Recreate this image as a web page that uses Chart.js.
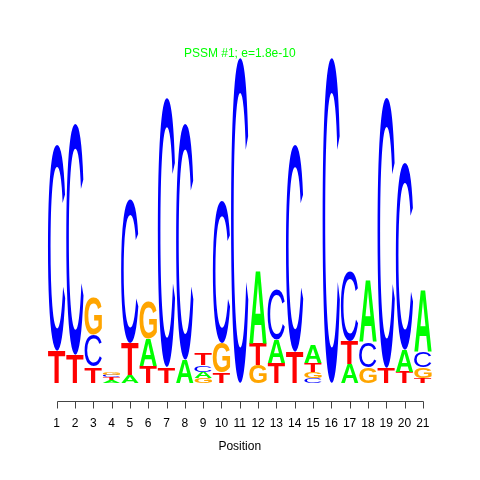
<!DOCTYPE html>
<html><head><meta charset="utf-8">
<script src="https://cdn.jsdelivr.net/npm/chart.js@4"></script>
<style>html,body{margin:0;padding:0;background:#fff}</style>
</head><body>
<canvas id="c" width="480" height="480"></canvas>
<script>
// Positions (x-axis tick labels)
const positions = ['1','2','3','4','5','6','7','8','9','10','11','12','13','14','15','16','17','18','19','20','21'];
// Letter stacks, ordered from bottom (rank 1) to top (rank 4); heights in bits
const letters1 = ['T','T','T','A','A','T','T','A','G','T','C','G','T','T','C','C','A','G','T','T','T'];
const bits1    = [0.197,0.172,0.098,0.018,0.049,0.105,0.098,0.142,0.031,0.062,2.0,0.111,0.123,0.191,0.031,2.0,0.117,0.098,0.092,0.068,0.031];
const letters2 = ['C','C','C','T','T','A','C','C','A','G','','T','A','C','G','','T','C','C','A','G'];
const bits2    = [1.268,1.422,0.197,0.015,0.197,0.166,1.655,1.452,0.037,0.185,0,0.135,0.142,1.274,0.037,0,0.142,0.154,1.662,0.135,0.062];
const letters3 = ['','','G','C','C','G','','','C','C','','A','C','','T','','C','A','','C','C'];
const bits3    = [0,0,0.222,0.015,0.880,0.222,0,0,0.043,0.874,0,0.443,0.308,0,0.055,0,0.425,0.382,0,1.151,0.098];
const letters4 = ['','','','G','','','','','T','','','','','','A','','','','','','A'];
const bits4    = [0,0,0,0.012,0,0,0,0,0.074,0,0,0,0,0,0.111,0,0,0,0,0,0.382];
const titleText = 'PSSM #1; e=1.8e-10';

const letterColors = {A:'#00ff00', C:'#0000ff', G:'#ffa500', T:'#ff0000'};
const letterWeights = {A:'bold', C:'normal', G:'bold', T:'bold'};
const FONT = '"Liberation Sans", Arial, Helvetica, sans-serif';

const logoPlugin = {
  id: 'logoLetters',
  afterDatasetsDraw(chart) {
    const ctx = chart.ctx;
    chart.data.datasets.forEach((ds, di) => {
      const meta = chart.getDatasetMeta(di);
      meta.data.forEach((el, i) => {
        const L = ds.letters[i];
        if (!L) return;
        const p = el.getProps(['x','y','base','width'], true);
        const top = Math.min(p.y, p.base), h = Math.abs(p.base - p.y);
        if (h < 0.3) return;
        ctx.save();
        ctx.font = letterWeights[L] + ' 100px ' + FONT;
        ctx.textBaseline = 'alphabetic';
        ctx.textAlign = 'left';
        const m = ctx.measureText(L);
        const gl = m.actualBoundingBoxLeft, gr = m.actualBoundingBoxRight;
        const ga = m.actualBoundingBoxAscent, gd = m.actualBoundingBoxDescent;
        ctx.translate(p.x - p.width / 2, top);
        ctx.scale(p.width / (gl + gr), h / (ga + gd));
        ctx.fillStyle = letterColors[L];
        ctx.fillText(L, gl, ga);
        ctx.restore();
      });
    });
  }
};

const axisPlugin = {
  id: 'rAxis',
  afterDraw(chart) {
    const xs = chart.scales.x, ctx = chart.ctx;
    const yLine = Math.round(chart.chartArea.bottom + 18.7) + 0.5;
    const n = positions.length;
    const x0 = xs.getPixelForTick(0), x1 = xs.getPixelForTick(n - 1);
    ctx.save();
    ctx.strokeStyle = '#444';
    ctx.lineWidth = 1;
    ctx.beginPath();
    ctx.moveTo(Math.round(x0) + 0.5, yLine);
    ctx.lineTo(Math.round(x1) + 0.5, yLine);
    for (let i = 0; i < n; i++) {
      const x = Math.round(xs.getPixelForTick(i)) + 0.5;
      ctx.moveTo(x, yLine);
      ctx.lineTo(x, yLine + 7);
    }
    ctx.stroke();
    ctx.restore();
  }
};

function mk(letters, bits) {
  return {
    data: bits, letters: letters, stack: 'logo',
    backgroundColor: 'rgba(0,0,0,0)', borderWidth: 0,
    categoryPercentage: 1.0, barPercentage: 0.95
  };
}

new Chart(document.getElementById('c'), {
  type: 'bar',
  data: {
    labels: positions,
    datasets: [mk(letters1, bits1), mk(letters2, bits2), mk(letters3, bits3), mk(letters4, bits4)]
  },
  options: {
    responsive: false,
    animation: false,
    devicePixelRatio: 1,
    layout: { padding: { left: 47.5, right: 48, top: 0, bottom: 26 } },
    plugins: {
      legend: { display: false },
      tooltip: { enabled: false },
      title: {
        display: true, text: titleText, color: '#00ff00',
        font: { family: FONT, size: 12, weight: 'normal' },
        padding: { top: 46, bottom: -3 }
      }
    },
    scales: {
      x: {
        stacked: true,
        grid: { display: false, drawTicks: false },
        border: { display: false },
        ticks: { color: '#000', font: { family: FONT, size: 12 }, padding: 34, maxRotation: 0, autoSkip: false },
        title: { display: true, text: 'Position', color: '#000', font: { family: FONT, size: 12 }, padding: { top: -25.6, bottom: 0 } }
      },
      y: { stacked: true, display: false, min: 0, max: 2 }
    }
  },
  plugins: [logoPlugin, axisPlugin]
});
</script>
</body></html>
